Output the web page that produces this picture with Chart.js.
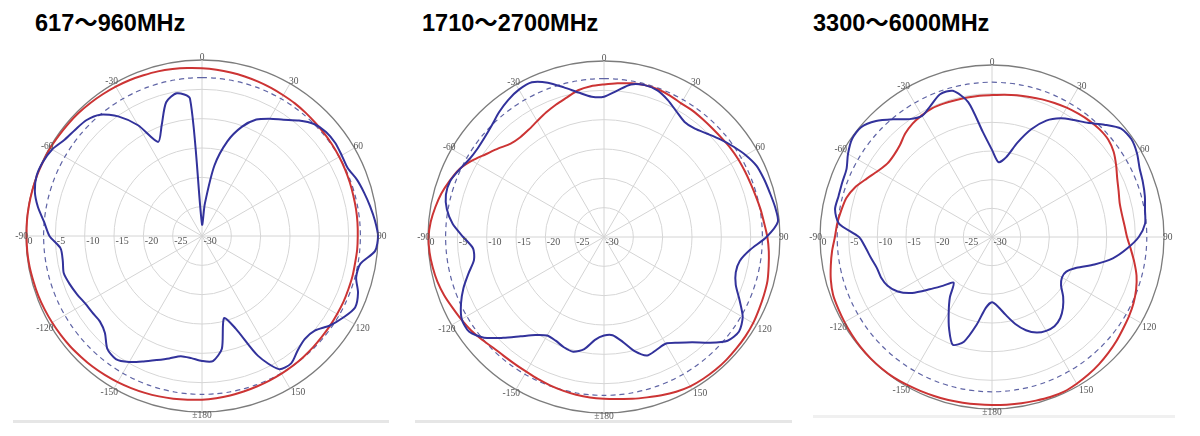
<!DOCTYPE html>
<html>
<head>
<meta charset="utf-8">
<script src="https://cdn.jsdelivr.net/npm/chart.js@4/dist/chart.umd.min.js"></script>
<style>
  html, body { margin: 0; padding: 0; background: #ffffff; }
  #wrap { position: relative; width: 1200px; height: 436px; overflow: hidden; background: #fff; }
  canvas { position: absolute; top: 0; }
  .title { position: absolute; top: 12px; font-family: "Liberation Sans", "Noto Sans CJK SC", Arial, sans-serif; font-weight: bold; font-size: 23.5px; line-height: 23px; color: #000; white-space: nowrap; }
  .sep { position: absolute; height: 3px; background: #e6e6e6; }
</style>
</head>
<body>
<div id="wrap">
  <div class="title" style="left:35px">617～960MHz</div>
  <div class="title" style="left:422px">1710～2700MHz</div>
  <div class="title" style="left:813px">3300～6000MHz</div>
  <div class="sep" style="left:13px; top:420px; width:376px;"></div>
  <div class="sep" style="left:415px; top:420px; width:377px;"></div>
  <div class="sep" style="left:813px; top:415px; width:362px; background:#f0f0f0;"></div>
  <canvas id="c1" width="400" height="436" style="left:0px"></canvas>
  <canvas id="c2" width="400" height="436" style="left:400px"></canvas>
  <canvas id="c3" width="400" height="436" style="left:800px"></canvas>
</div>
<script>
// Angles (degrees, clockwise from top) at which the patterns are sampled
const angles = [0,5,10,15,20,25,30,35,40,45,50,55,60,65,70,75,80,85,90,95,100,105,110,115,120,125,130,135,140,145,150,155,160,165,170,175,180,-175,-170,-165,-160,-155,-150,-145,-140,-135,-130,-125,-120,-115,-110,-105,-100,-95,-90,-85,-80,-75,-70,-65,-60,-55,-50,-45,-40,-35,-30,-25,-20,-15,-10,-5];

// Angle tick labels and radial (dB) tick labels
const angleTickValues = [0,30,60,90,120,150,180,-150,-120,-90,-60,-30];
const angleTickLabels = ['0','30','60','90','120','150','±180','-150','-120','-90','-60','-30'];
const radialTicks = [0,-5,-10,-15,-20,-25,-30];

const titles = ['617～960MHz','1710～2700MHz','3300～6000MHz'];

// 617~960MHz
const blue617 = [-28,-24.5,-17.8,-13.3,-10.2,-8.1,-6.9,-5.8,-4.3,-3.0,-2.4,-2.3,-2.5,-2.6,-1.9,-1.4,-0.9,-0.4,0,-0.4,-2.6,-2.8,-1.7,-1.2,-2.2,-3.4,-4.9,-5.2,-4.6,-3.5,-3.8,-7.5,-13.2,-15.5,-10.5,-8.6,-8.7,-9.1,-9.2,-8.4,-7.5,-6.4,-5.2,-4.4,-4.9,-6.6,-7.3,-7.2,-7.0,-6.5,-6.0,-5.6,-5.9,-5.8,-4.0,-3.0,-1.6,-0.5,0,-0.1,-0.5,-1.4,-1.8,-2.1,-3.0,-5.1,-8.2,-12.3,-9.9,-6.4,-5.3,-6.5];
const red617 = [-1.4,-1.55,-1.7,-1.85,-2.0,-2.15,-2.3,-2.4,-2.55,-2.7,-2.8,-2.9,-3.0,-3.1,-3.2,-3.3,-3.35,-3.4,-3.45,-3.45,-3.5,-3.45,-3.45,-3.4,-3.4,-3.35,-3.3,-3.2,-3.1,-3.0,-2.9,-2.8,-2.7,-2.55,-2.4,-2.25,-2.1,-2.0,-1.85,-1.7,-1.55,-1.4,-1.25,-1.1,-0.95,-0.85,-0.7,-0.6,-0.5,-0.4,-0.3,-0.25,-0.15,-0.1,-0.1,-0.05,-0.05,-0.05,-0.05,-0.1,-0.1,-0.2,-0.25,-0.3,-0.4,-0.5,-0.6,-0.7,-0.85,-0.95,-1.1,-1.25];

// 1710~2700MHz
const blue1710 = [-6.1,-5.0,-3.6,-3.2,-3.4,-4.25,-5.3,-6.05,-5.9,-5.1,-4.1,-3.1,-2.1,-1.3,-1.0,-0.75,-0.4,-0.25,-2.3,-5.0,-6.5,-6.75,-6.1,-4.5,-2.7,-1.9,-2.5,-4.5,-6.6,-8.0,-9.0,-8.8,-8.5,-9.85,-11.9,-13.2,-13.2,-12.4,-10.6,-9.75,-10.0,-10.5,-10.6,-9.6,-7.9,-5.7,-3.3,-1.9,-2.0,-3.1,-4.5,-6.1,-7.5,-7.6,-6.0,-4.1,-2.8,-2.1,-2.1,-2.8,-3.5,-3.7,-3.5,-3.0,-2.2,-1.5,-1.0,-0.9,-2.0,-3.6,-5.0,-6.0];
const red1710 = [-4.0,-3.7,-3.4,-3.2,-3.2,-3.4,-3.7,-3.7,-3.8,-3.85,-3.8,-3.65,-3.55,-3.5,-3.4,-3.2,-2.9,-2.6,-2.15,-1.8,-1.5,-1.15,-1.0,-0.85,-0.65,-0.55,-0.5,-0.45,-0.45,-0.5,-0.6,-0.9,-1.3,-1.7,-2.0,-2.3,-2.45,-2.55,-2.7,-2.9,-3.1,-3.3,-3.5,-3.55,-3.5,-3.3,-2.8,-2.3,-1.9,-1.5,-1.0,-0.6,-0.35,-0.15,-0.1,-0.35,-0.8,-1.3,-2.0,-2.75,-4.0,-5.4,-6.5,-7.5,-7.8,-7.65,-7.2,-6.6,-6.0,-5.4,-4.6,-4.2];

// 3300~6000MHz
const blue3300 = [-14.8,-16.9,-15.9,-13.0,-10.0,-7.6,-6.1,-5.1,-4.0,-2.3,-0.6,-0.3,-0.8,-1.6,-2.0,-2.4,-2.9,-3.2,-4.4,-6.4,-8.6,-11.5,-14.3,-15.7,-15.9,-15.3,-13.8,-12.5,-11.5,-11.0,-11.1,-11.6,-12.7,-14.3,-16.2,-17.8,-18.6,-17.6,-14.4,-11.1,-10.0,-12.3,-14.9,-17.2,-19.6,-18.0,-15.8,-13.0,-11.0,-9.9,-9.4,-9.2,-8.6,-7.9,-6.8,-3.2,-2.2,-2.3,-2.2,-2.0,-1.0,-0.2,-0.2,-1.4,-3.2,-4.9,-5.6,-4.7,-3.5,-3.6,-6.1,-11.6];
const red3300 = [-5.25,-5.1,-4.9,-4.7,-4.45,-4.2,-3.95,-3.75,-3.55,-3.45,-3.55,-4.1,-5.0,-5.9,-6.5,-6.95,-7.0,-6.8,-6.45,-5.7,-4.8,-3.9,-3.25,-2.75,-2.4,-2.1,-1.7,-1.35,-1.0,-0.7,-0.45,-0.25,-0.3,-0.45,-0.55,-0.65,-0.7,-0.7,-0.65,-0.55,-0.5,-0.4,-0.25,-0.1,-0.05,-0.05,-0.1,-0.2,-0.3,-0.4,-0.5,-0.9,-1.45,-2.0,-2.6,-2.9,-3.3,-3.7,-4.6,-5.9,-7.0,-7.7,-7.7,-7.3,-6.45,-5.85,-5.5,-5.25,-5.25,-5.3,-5.3,-5.25];

// -3 dB reference circle (dashed)
const refCircle = [-3,-3,-3,-3,-3,-3,-3,-3,-3,-3,-3,-3,-3,-3,-3,-3,-3,-3,-3,-3,-3,-3,-3,-3,-3,-3,-3,-3,-3,-3,-3,-3,-3,-3,-3,-3,-3,-3,-3,-3,-3,-3,-3,-3,-3,-3,-3,-3,-3,-3,-3,-3,-3,-3,-3,-3,-3,-3,-3,-3,-3,-3,-3,-3,-3,-3,-3,-3,-3,-3,-3,-3];

const BLUE = 'rgb(50,50,155)';
const RED = 'rgb(204,52,52)';
const DASH = 'rgb(95,100,165)';

const polarLabels = {
  id: 'polarLabels',
  afterDraw(chart) {
    const s = chart.scales.r;
    const ctx = chart.ctx;
    ctx.save();
    ctx.fillStyle = '#555';
    ctx.font = '10px "Liberation Serif", serif';
    ctx.textAlign = 'left';
    ctx.textBaseline = 'middle';
    radialTicks.forEach(v => {
      const d = s.getDistanceFromCenterForValue(v);
      ctx.fillText(String(v), s.xCenter - d + 1.5, s.yCenter + 5.5);
    });
    ctx.font = '9.5px "Liberation Serif", serif';
    angleTickValues.forEach((a, i) => {
      const idx = angles.indexOf(a);
      const p = s.getPointPosition(idx, s.drawingArea);
      let x = p.x, y = p.y, align = 'center', base = 'middle';
      if (a === 0) { base = 'alphabetic'; y = p.y; }
      else if (a === 180) { base = 'middle'; y = p.y + 3.5; }
      else if (a === 90) { align = 'left'; x = p.x - 1; }
      else if (a === -90) { align = 'right'; x = p.x + 2; }
      else if (a > 0) { align = 'left'; x = p.x + (a < 90 ? -1 : 1); y = p.y + (a < 90 ? -2 : 4.5); }
      else { align = 'right'; x = p.x + 4; y = p.y + (a > -90 ? -2 : 4.5); }
      ctx.textAlign = align;
      ctx.textBaseline = base;
      ctx.fillText(angleTickLabels[i], x, y);
    });
    ctx.restore();
  }
};

function makeChart(id, blue, red, pad) {
  return new Chart(document.getElementById(id), {
    type: 'radar',
    data: {
      labels: angles,
      datasets: [
        { label: 'pattern', data: blue, borderColor: BLUE, borderWidth: 2, pointRadius: 0, fill: false, tension: 0.25 },
        { label: 'reference', data: red, borderColor: RED, borderWidth: 2, pointRadius: 0, fill: false, tension: 0.25 },
        { label: '-3 dB', data: refCircle, borderColor: DASH, borderWidth: 1.2, borderDash: [5, 4], pointRadius: 0, fill: false, tension: 0.3 }
      ]
    },
    options: {
      responsive: false,
      animation: false,
      layout: { padding: pad },
      plugins: { legend: { display: false }, tooltip: { enabled: false }, title: { display: false } },
      scales: {
        r: {
          min: -30,
          max: 0,
          startAngle: 0,
          ticks: { display: false, stepSize: 5 },
          pointLabels: { display: false },
          grid: {
            circular: true,
            color: c => (c.tick && c.tick.value === 0) ? '#7c7c7c' : '#d6d6d6',
            lineWidth: c => (c.tick && c.tick.value === 0) ? 1.3 : 1
          },
          angleLines: {
            display: true,
            color: c => (c.index % 6 === 0) ? '#d4d4d4' : 'rgba(0,0,0,0)',
            lineWidth: c => (c.index % 6 === 0) ? 1 : 0
          }
        }
      }
    },
    plugins: [polarLabels]
  });
}

makeChart('c1', blue617, red617, { left: 26, top: 60, right: 22, bottom: 24 });
makeChart('c2', blue1710, red1710, { left: 28, top: 61, right: 20, bottom: 23 });
makeChart('c3', blue3300, red3300, { left: 20, top: 65, right: 36, bottom: 27 });
</script>
</body>
</html>
